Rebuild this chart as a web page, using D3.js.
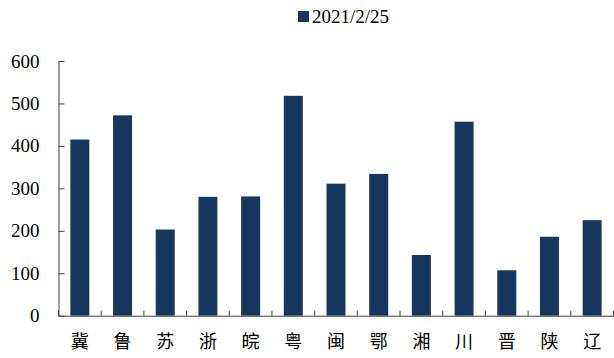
<!DOCTYPE html>
<html>
<head>
<meta charset="utf-8">
<script src="https://cdn.jsdelivr.net/npm/d3@7"></script>
<style>
  html, body { margin: 0; padding: 0; background: #fff; }
  svg { display: block; }
  .serif { font-family: "Liberation Serif", "DejaVu Serif", serif; }
</style>
</head>
<body>
<div id="chart"></div>
<script>
// Provinces (abbreviations) and their values on 2021/2/25
const categories = ["冀", "鲁", "苏", "浙", "皖", "粤", "闽", "鄂", "湘", "川", "晋", "陕", "辽"];
const values = [415, 472, 203, 280, 281, 518, 311, 334, 143, 457, 107, 186, 225];
const seriesName = "2021/2/25";
const yTicks = [0, 100, 200, 300, 400, 500, 600];

const W = 614, H = 358;
const barColor = "#17375e";
const axisColor = "#404040";
const cjk = "Noto Sans CJK SC";

const svg = d3.select("#chart").append("svg")
  .attr("width", W).attr("height", H);

const x = d3.scaleBand().domain(categories).range([58.5, 613.5]).padding(0);
const y = d3.scaleLinear().domain([0, 600]).range([315.7, 61]);
const barW = 19;

// Bars
svg.append("g").selectAll("rect")
  .data(categories)
  .join("rect")
  .attr("x", (d) => x(d) + x.bandwidth() / 2 - barW / 2)
  .attr("y", (d, i) => y(values[i]))
  .attr("width", barW)
  .attr("height", (d, i) => y(0) - y(values[i]))
  .attr("fill", barColor);

// Y axis: inward ticks, labels on the left
const yAxis = svg.append("g")
  .attr("transform", "translate(58.5,0)")
  .call(d3.axisLeft(y).tickValues(yTicks).tickSizeInner(-6).tickSizeOuter(0).tickPadding(19));
yAxis.attr("font-family", null).attr("font-size", null);
yAxis.select(".domain").attr("stroke", axisColor);
yAxis.selectAll(".tick line").attr("stroke", axisColor);
yAxis.selectAll(".tick text")
  .attr("class", "serif")
  .attr("fill", "#000")
  .attr("font-size", 19);

// X axis: baseline, category labels centred under bars
const xAxis = svg.append("g")
  .attr("transform", `translate(0,${y(0)})`)
  .call(d3.axisBottom(x).tickSize(0).tickPadding(0));
xAxis.attr("font-family", cjk).attr("font-size", 18);
xAxis.select(".domain").attr("stroke", axisColor);
xAxis.selectAll(".tick text")
  .attr("y", 32).attr("dy", 0)
  .attr("fill", "#000");

// Separator ticks between categories, pointing up
const edges = categories.map((d) => x(d)).concat([x.range()[1]]);
svg.append("g").selectAll("line")
  .data(edges)
  .join("line")
  .attr("x1", (d) => d).attr("x2", (d) => d)
  .attr("y1", y(0)).attr("y2", y(0) - 5)
  .attr("stroke", axisColor);

// Legend
const legend = svg.append("g");
legend.append("rect")
  .attr("x", 298).attr("y", 11).attr("width", 11).attr("height", 11)
  .attr("fill", barColor);
legend.append("text")
  .attr("class", "serif")
  .attr("x", 312).attr("y", 22.5)
  .attr("font-size", 19)
  .attr("fill", "#000")
  .text(seriesName);
</script>
</body>
</html>
